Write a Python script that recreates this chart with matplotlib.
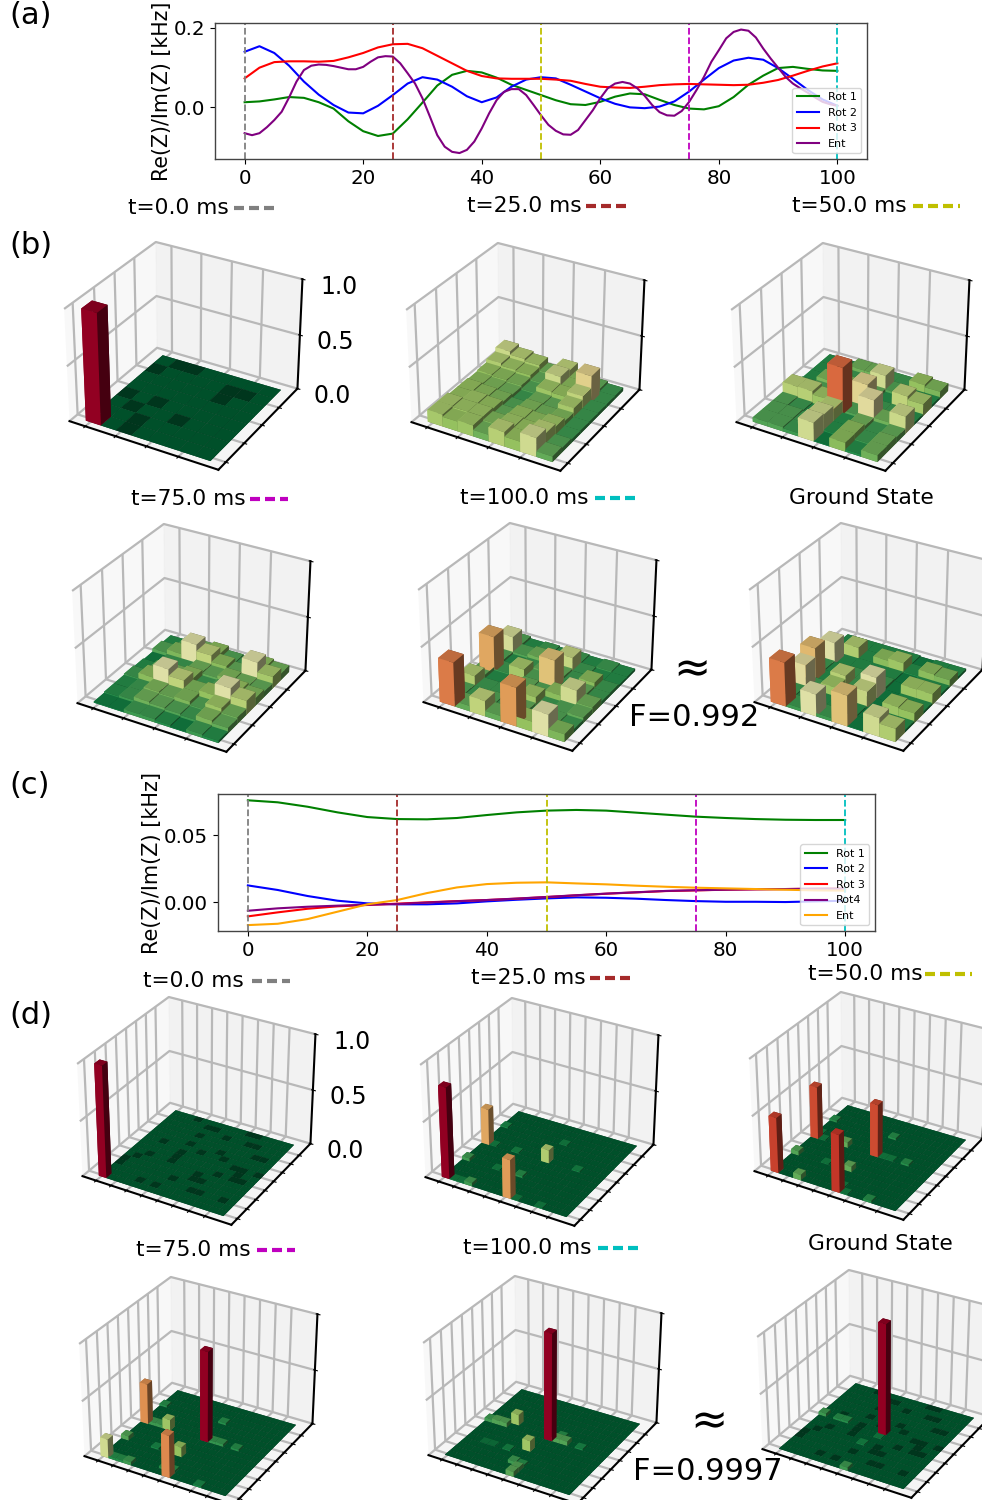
import matplotlib
matplotlib.use('Agg')
import matplotlib.pyplot as plt
import numpy as np
from matplotlib.lines import Line2D

W, H = 982, 1500

plt.rcParams['grid.linewidth'] = 1.6
plt.rcParams['grid.color'] = '#b8b8b8'
plt.rcParams['axes.linewidth'] = 1.5

# panel (a) - read every 2.5 ms, Ent every 1.25 ms since it moves faster
t_a = np.arange(41) * 2.5
t_ent = np.arange(81) * 1.25
rot1_a = [.013, .015, .02, .026, .024, .013, -.003, -.035, -.06, -.072, -.066, -.03, .012, .055, .082, .092, .088, .075, .057, .044, .031,
          .018, .008, .006, .014, .027, .035, .033, .019, .006, -.003, -.005, .003, .026, .057, .08, .099, .102, .097, .093, .092]
rot2_a = [.14, .154, .137, .105, .065, .032, .006, -.013, -.015, .004, .031, .06, .076, .07, .052, .028, .013, .025, .052, .07, .076,
          .073, .057, .04, .023, .009, 0, -.002, .002, .015, .04, .07, .099, .118, .125, .12, .099, .072, .044, .02, .004]
rot3_a = [.073, .1, .114, .116, .116, .115, .117, .126, .137, .151, .159, .16, .149, .13, .111, .092, .079, .073, .072, .072, .072,
          .07, .067, .059, .052, .05, .049, .052, .056, .058, .059, .058, .057, .056, .057, .062, .069, .08, .092, .103, .111]
ent_a = [-.065, -.07, -.065, -.05, -.032, -.011, .025, .065, .094, .105, .108, .107, .104, .10, .096, .096, .102, .115, .126, .129,
         .128, .111, .086, .06, .023, -.023, -.07, -.099, -.112, -.115, -.107, -.086, -.053, -.015, .018, .039, .046, .046, .031, .006,
         -.02, -.044, -.059, -.068, -.069, -.057, -.032, -.007, .023, .048, .06, .064, .06, .048, .029, .006, -.012, -.02, -.021, -.009,
         .014, .044, .077, .115, .144, .174, .19, .196, .193, .176, .148, .123, .10, .077, .06, .048, .037, .025, .014, .008, .004]

# panel (c) - read every 5 ms
t_c = np.arange(21) * 5.0
rot1_c = [.0759, .0744, .0711, .0669, .0634, .0619, .0617, .0627, .0649, .0669, .0682, .0687, .0682, .0667, .0652, .0637, .0627, .0619, .0614, .0612, .0612]
rot2_c = [.0124, .009, .0045, .001, -.001, -.0017, -.0017, -.001, .0005, .0017, .0027, .0035, .0032, .0025, .0015, .0007, .0002, .0002, 0, .0005, .001]
rot3_c = [-.0107, -.0077, -.005, -.0032, -.0022, -.0012, -.0002, .0007, .0015, .0025, .0037, .005, .0062, .0072, .0082, .0087, .0092, .0095, .0097, .01, .0102]
rot4_c = [-.0065, -.0047, -.0035, -.0027, -.002, -.0015, -.0004, .0006, .0015, .0026, .0038, .0051, .0063, .0073, .0083, .0088, .0092, .0095, .0097, .0099, .01]
ent_c = [-.0172, -.0162, -.0127, -.0072, -.0017, .0015, .0067, .0109, .0134, .0144, .0147, .0139, .0132, .0122, .0114, .0107, .0102, .0097, .0092, .0087, .0085]

t_marks = [0, 25, 50, 75, 100]
mark_colors = ['gray', 'brown', 'y', 'm', 'c']

# panel (b) - 8x8 populations, first row is the front row
b_t0_peak = [(0, 0, 1.0)]
b_t0_dark = [(0, 6), (1, 7), (2, 7), (0, 3), (2, 3), (1, 2), (4, 2), (2, 1), (2, 0), (5, 6), (5, 5), (6, 6)]
b_t25 = [[.11, .09, .10, .06, .13, .09, .17, .05],
         [.11, .10, .10, .07, .10, .09, .13, .04],
         [.09, .10, .09, .05, .09, .08, .10, .03],
         [.09, .08, .07, .04, .07, .06, .07, .03],
         [.08, .07, .06, .03, .06, .05, .11, .03],
         [.09, .08, .07, .04, .10, .09, .14, .03],
         [.12, .10, .09, .05, .16, .08, .25, .03],
         [.16, .13, .11, .06, .14, .08, .05, .03]]
b_t50 = [[.04, .04, .03, .17, .01, .08, .02, .06],
         [.04, .04, .03, .16, .02, .08, .03, .06],
         [.04, .03, .02, .13, .02, .06, .03, .05],
         [.13, .13, .10, .43, .04, .22, .06, .16],
         [.03, .04, .03, .04, .24, .03, .03, .02],
         [.02, .07, .07, .03, .05, .02, .14, .11],
         [.02, .02, .03, .02, .17, .04, .02, .02],
         [.02, .02, .06, .06, .03, .03, .09, .07]]
b_t75 = [[.01, .01, .03, .03, .02, .01, .03, .02],
         [.02, .03, .06, .05, .04, .03, .07, .05],
         [.02, .03, .07, .06, .07, .04, .10, .06],
         [.03, .08, .20, .14, .07, .09, .20, .13],
         [.02, .05, .06, .08, .03, .04, .09, .07],
         [.01, .03, .03, .06, .05, .07, .06, .05],
         [.04, .07, .20, .14, .08, .05, .20, .11],
         [.02, .04, .06, .08, .04, .03, .08, .06]]
b_t100 = [[.40, .05, .14, .05, .35, .09, .20, .07],
          [.04, .03, .04, .03, .05, .03, .04, .03],
          [.12, .03, .03, .05, .10, .03, .04, .05],
          [.05, .02, .02, .05, .04, .08, .17, .06],
          [.33, .03, .11, .04, .28, .03, .05, .03],
          [.04, .02, .03, .05, .05, .03, .08, .03],
          [.18, .04, .06, .03, .15, .03, .02, .02],
          [.04, .02, .03, .02, .03, .02, .03, .02]]
b_ground = [[.40, .03, .20, .03, .28, .01, .17, .12],
            [.03, .02, .02, .02, .02, .01, .02, .02],
            [.22, .03, .10, .03, .15, .01, .10, .09],
            [.30, .02, .13, .03, .20, .01, .02, .02],
            [.03, .02, .03, .03, .03, .01, .10, .10],
            [.20, .02, .02, .02, .02, .01, .02, .02],
            [.02, .12, .02, .08, .10, .02, .08, .07],
            [.02, .02, .02, .02, .02, .01, .02, .02]]

# panel (d) - 16x16, mostly empty so only (x, y, height)
d_t0_peaks = [(0, 0, 1.0)]
d_t25_peaks = [(0, 0, .82), (8, 0, .35), (0, 8, .33), (8, 8, .12), (0, 4, .03), (3, 0, .03), (7, 4, .02), (4, 4, .01), (0, 12, .015),
               (4, 8, .012), (12, 8, .012), (1, 0, .01), (2, 0, .01), (9, 0, .008), (1, 8, .01), (8, 12, .01), (12, 0, .01)]
d_t50_peaks = [(0, 0, .5), (8, 0, .52), (0, 8, .48), (8, 8, .48), (0, 4, .04), (3, 0, .05), (7, 4, .05), (4, 8, .05), (0, 12, .02), (8, 12, .02),
               (12, 8, .02), (12, 0, .02), (4, 4, .01), (9, 8, .01), (10, 8, .01), (8, 1, .01), (9, 0, .01), (1, 8, .01), (0, 9, .01)]
d_t75_peaks = [(0, 0, .17), (0, 8, .37), (8, 0, .38), (8, 8, .82), (3, 8, .10), (7, 4, .09), (0, 4, .04), (3, 0, .03), (1, 8, .03), (2, 8, .03),
               (9, 8, .025), (10, 8, .025), (1, 0, .02), (2, 0, .02), (8, 1, .02), (7, 1, .02), (8, 12, .02), (12, 8, .02), (0, 12, .02), (12, 0, .015), (4, 4, .015)]
d_t100_peaks = [(8, 8, .97), (3, 9, .10), (7, 5, .10), (0, 8, .03), (1, 8, .04), (2, 8, .04), (9, 8, .04), (10, 8, .04), (8, 0, .045), (7, 2, .03),
                (8, 1, .04), (8, 2, .02), (12, 8, .015), (5, 4, .012), (2, 4, .006), (3, 4, .006), (9, 9, .02)]
d_ground_peaks = [(8, 8, 1.0), (0, 8, .03), (8, 0, .03), (2, 8, .02), (3, 8, .02), (7, 5, .012), (8, 7, .01)]
d_dark = [(3, 15), (5, 14), (6, 14), (10, 15), (11, 15), (2, 9), (5, 10), (5, 12), (8, 13), (12, 13), (11, 13), (1, 5), (2, 6), (5, 7), (5, 6),
          (7, 9), (9, 10), (13, 11), (14, 11), (0, 3), (0, 4), (4, 1), (6, 1), (7, 3), (9, 5), (9, 4), (10, 4), (11, 6), (10, 9), (12, 8), (13, 8),
          (13, 7), (13, 6), (14, 6), (15, 8), (10, 2), (11, 2), (14, 2), (5, 8)]

cmap = plt.get_cmap('RdYlGn_r')


def from_peaks(n, peaks):
    m = np.zeros((n, n))
    for x, y, h in peaks:
        m[y, x] = h
    return m


def px_axes(fig, x0, x1, y0, y1):
    # rectangle given in picture pixels, y going down
    return [x0 / W, 1 - y1 / H, (x1 - x0) / W, (y1 - y0) / H]


def histo(fig, cx, cy, mat, dark=(), zlabels=False):
    mat = np.asarray(mat, dtype=float)
    n = mat.shape[0]
    s = 265
    ax = fig.add_axes(px_axes(fig, cx - s / 2, cx + s / 2, cy - s / 2, cy + s / 2), projection='3d')
    ax.patch.set_alpha(0)
    xx, yy = np.meshgrid(np.arange(n), np.arange(n))
    heights = mat.ravel()
    colors = cmap(np.clip(1.3 * heights ** .6, 0, 1))
    # cells drawn darker on the floor
    for x, y in dark:
        colors[y * n + x, :3] *= 0.68
    ax.bar3d(xx.ravel() - .3, yy.ravel() - .3, np.zeros(n * n), 1, 1, np.maximum(heights, 1e-4), color=colors)
    cell_x = n / .84
    ax.set_xlim(-.3 - .08 * cell_x, -.3 + n + .08 * cell_x)
    ax.set_ylim(-.3 - .05 * cell_x, -.3 + n + .06 * cell_x)
    ax.set_zlim(0, 1)
    ax.set_xticks(np.arange(0, n, 2))
    ax.set_yticks(np.arange(0, n, 2))
    ax.set_zticks([0, .5, 1])
    ax.set_xticklabels([])
    ax.set_yticklabels([])
    if zlabels:
        ax.set_zticklabels(['0.0', '0.5', '1.0'], fontsize=17)
        ax.tick_params(axis='z', pad=8)
    else:
        ax.set_zticklabels([])
    return ax


def line_panel(fig, box, series, ylim, yticks, ylabels):
    ax = fig.add_axes(px_axes(fig, *box))
    for x, y, col, name in series:
        ax.plot(x, y, color=col, lw=1.5, label=name)
    for t, col in zip(t_marks, mark_colors):
        ax.axvline(t, color=col, ls='--', lw=1.3)
    ax.set_xlim(-5, 105)
    ax.set_ylim(*ylim)
    ax.set_xticks(np.arange(0, 101, 20))
    ax.set_yticks(yticks)
    ax.set_yticklabels(ylabels)
    ax.tick_params(labelsize=14.3)
    for sp in ax.spines.values():
        sp.set_linewidth(1.0)
        sp.set_color('#444444')
    ax.legend(loc='lower right', fontsize=8)
    return ax


def stamp(fig, x, y, text, col=None, x0=None, x1=None, size=15.7):
    fig.text(x / W, 1 - (y + 1) / H, text, fontsize=size, ha='left', va='center')
    if col is not None:
        fig.add_artist(Line2D([x0 / W, x1 / W], [1 - (y + 1) / H] * 2, color=col, lw=3, ls=(0, (2.4, 1.2))))


fig = plt.figure(figsize=(W / 100, H / 100), dpi=100)

line_panel(fig, (215, 867, 23, 159),
           [(t_a, rot1_a, 'green', 'Rot 1'), (t_a, rot2_a, 'blue', 'Rot 2'), (t_a, rot3_a, 'red', 'Rot 3'), (t_ent, ent_a, 'purple', 'Ent')],
           (-.13, .2125), [0, .2], ['0.0', '0.2'])
line_panel(fig, (218, 875, 794, 931),
           [(t_c, rot1_c, 'green', 'Rot 1'), (t_c, rot2_c, 'blue', 'Rot 2'), (t_c, rot3_c, 'red', 'Rot 3'), (t_c, rot4_c, 'purple', 'Rot4'), (t_c, ent_c, 'orange', 'Ent')],
           (-.0216, .0806), [0, .05], ['0.00', '0.05'])
fig.text(162 / W, 1 - 91 / H, 'Re(Z)/Im(Z) [kHz]', rotation=90, fontsize=14.8, ha='center', va='center')
fig.text(152 / W, 1 - 863 / H, 'Re(Z)/Im(Z) [kHz]', rotation=90, fontsize=15, ha='center', va='center')

histo(fig, 182, 354, from_peaks(8, b_t0_peak), dark=b_t0_dark, zlabels=True)
histo(fig, 524, 355, b_t25)
histo(fig, 849, 355, b_t50)
histo(fig, 190, 636, b_t75)
histo(fig, 536, 635, b_t100)
histo(fig, 867, 635, b_ground)
histo(fig, 195, 1109, from_peaks(16, d_t0_peaks), dark=d_dark, zlabels=True)
histo(fig, 538, 1110, from_peaks(16, d_t25_peaks))
histo(fig, 867, 1104, from_peaks(16, d_t50_peaks))
histo(fig, 197, 1389, from_peaks(16, d_t75_peaks))
histo(fig, 541, 1388, from_peaks(16, d_t100_peaks))
histo(fig, 875, 1382, from_peaks(16, d_ground_peaks), dark=d_dark)

for y, letter in zip([15, 246, 785, 1015], 'abcd'):
    fig.text(9 / W, 1 - y / H, '(%s)' % letter, fontsize=22, ha='left', va='center')

stamp(fig, 128, 207, 't=0.0 ms', 'gray', 234, 274)
stamp(fig, 467, 205, 't=25.0 ms', 'brown', 586, 628)
stamp(fig, 792, 205, 't=50.0 ms', 'y', 913, 960)
stamp(fig, 131, 498, 't=75.0 ms', 'm', 250, 288)
stamp(fig, 460, 497, 't=100.0 ms', 'c', 595, 640)
stamp(fig, 789, 497, 'Ground State')
stamp(fig, 143, 980, 't=0.0 ms', 'gray', 252, 290)
stamp(fig, 471, 977, 't=25.0 ms', 'brown', 590, 631)
stamp(fig, 808, 973, 't=50.0 ms', 'y', 925, 972)
stamp(fig, 136, 1249, 't=75.0 ms', 'm', 257, 295)
stamp(fig, 463, 1247, 't=100.0 ms', 'c', 598, 642)
stamp(fig, 808, 1243, 'Ground State')

stamp(fig, 673, 668, '\u2248', size=32)
stamp(fig, 629, 717, 'F=0.992', size=22)
stamp(fig, 690, 1420, '\u2248', size=32)
stamp(fig, 633, 1471, 'F=0.9997', size=22)

fig.savefig('out.png', dpi=100)
